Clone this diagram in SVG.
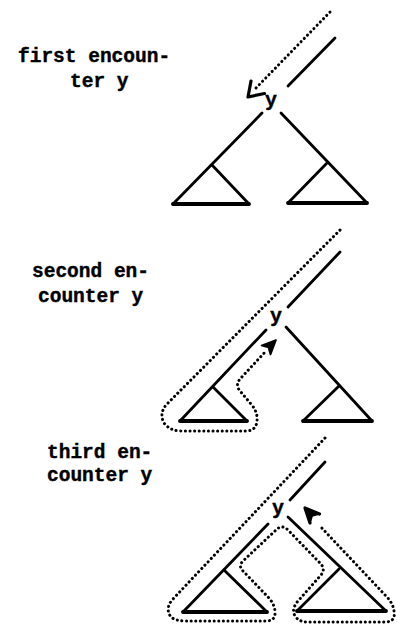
<svg xmlns="http://www.w3.org/2000/svg" width="397" height="624" viewBox="0 0 397 624">
<style>
  .lbl { font-family: "Liberation Mono", "DejaVu Sans Mono", monospace; font-weight: bold; font-size: 19.5px; fill: #000; stroke: #000; stroke-width: 0.4; }
  .node { font-family: "Liberation Mono", "DejaVu Sans Mono", monospace; font-weight: bold; font-size: 20px; fill: #000; stroke: #000; stroke-width: 0.4; text-anchor: middle; }
  .edge { fill: none; stroke: #000; stroke-width: 2.8; stroke-linecap: round; }
  .base { fill: none; stroke: #000; stroke-width: 3.8; stroke-linecap: round; }
  .dots { fill: none; stroke: #000; stroke-width: 3; stroke-linecap: round; stroke-dasharray: 0.1 4.5; }
  .head { fill: none; stroke: #000; stroke-width: 3.2; stroke-linecap: round; stroke-linejoin: round; }
  .headf { fill: #000; stroke: #000; stroke-width: 1.8; stroke-linejoin: round; }
</style>
<rect width="397" height="624" fill="#fff"/>

<!-- Panel 1 -->
<g id="label-first">
  <text class="lbl" x="18" y="62">first encoun-</text>
  <text class="lbl" x="70" y="87">ter y</text>
</g>
<g id="p1-node-y"><text class="node" x="271" y="106">y</text></g>
<g id="p1-subtree-left">
  <path class="edge" d="M212,165 L249,204"/>
  <path class="base" d="M173,204 L249,204"/>
</g>
<g id="p1-subtree-right">
  <path class="edge" d="M327,163 L288,203"/>
  <path class="base" d="M288,203 L367,203"/>
</g>
<g id="p1-connectors">
  <path class="edge" d="M335,38 L288,86"/>
  <path class="edge" d="M262,113 L173,204"/>
  <path class="edge" d="M281,113 L367,203"/>
  <path class="dots" d="M330,12 L256,88"/>
  <path class="head" d="M251,81 L248,97 L264.5,93.5"/>
</g>

<!-- Panel 2 -->
<g id="label-second">
  <text class="lbl" x="32" y="277">second en-</text>
  <text class="lbl" x="38" y="302">counter y</text>
</g>
<g id="p2-node-y"><text class="node" x="276" y="322">y</text></g>
<g id="p2-subtree-left">
  <path class="edge" d="M213,387 L247,421"/>
  <path class="base" d="M180,421 L247,421"/>
</g>
<g id="p2-subtree-right">
  <path class="edge" d="M339,386 L303,421"/>
  <path class="base" d="M303,421 L372,421"/>
</g>
<g id="p2-connectors">
  <path class="edge" d="M340,252 L288,307"/>
  <path class="edge" d="M266,330 L180,421"/>
  <path class="edge" d="M286,327 L372,421"/>
  <path class="dots" d="M340,230 L166,405 Q159,414 164,423 Q170,431 181,431 L246,431 Q256,431 257,421 Q258,412 251,404 L240,391 Q235,385 240,379 L266,351"/>
  <path class="headf" d="M276,340 L261.5,345.5 L268.5,347.5 L270.5,354.5 Z"/>
</g>

<!-- Panel 3 -->
<g id="label-third">
  <text class="lbl" x="47" y="458">third en-</text>
  <text class="lbl" x="47" y="481">counter y</text>
</g>
<g id="p3-node-y"><text class="node" x="278" y="514">y</text></g>
<g id="p3-subtree-left">
  <path class="edge" d="M224,570 L267,612"/>
  <path class="base" d="M183,612 L267,612"/>
</g>
<g id="p3-subtree-right">
  <path class="edge" d="M339,569 L297,611"/>
  <path class="base" d="M297,611 L386,611"/>
</g>
<g id="p3-connectors">
  <path class="edge" d="M325,462 L290,500"/>
  <path class="edge" d="M268,524 L183,612"/>
  <path class="edge" d="M288,517 L386,611"/>
  <path class="dots" d="M325,438 L172,600 Q165,609 171,617 Q176,621 185,621 L266,621 Q276,621 275,611 Q274,603 268,597 L243,571 Q238,566 243,561 L276,530 Q282,524 288,530 L320,563 Q326,569 321,575 L298,601 Q291,609 295,616 Q299,622 307,622 L385,622 Q396,622 394,611 Q393,603 386,596 L319,525"/>
  <path class="head" d="M319.5,514 L305,508 L310,523"/>
  <path class="headf" d="M305,508 L319.5,514 L312,516 L310,523 Z"/>
</g>
</svg>
